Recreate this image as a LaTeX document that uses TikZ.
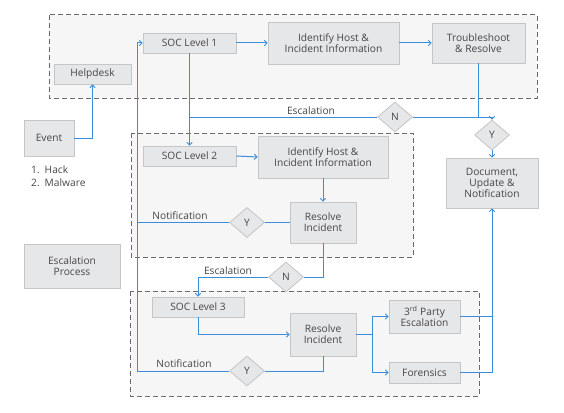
\documentclass[tikz,border=0pt]{standalone}
\usepackage{fontspec}
\setmainfont{Open Sans}
\usetikzlibrary{shapes.geometric,arrows.meta}
\definecolor{lineblue}{RGB}{58,141,218}
\definecolor{boxfill}{RGB}{230,231,233}
\definecolor{boxborder}{RGB}{196,198,200}
\definecolor{dimfill}{RGB}{200,200,200}
\definecolor{grpfill}{RGB}{246,246,246}
\definecolor{grpborder}{RGB}{105,105,105}
\definecolor{txt}{RGB}{70,70,70}
\tikzset{
  box/.style={draw=boxborder, fill=boxfill, line width=0.9pt, inner sep=0pt, align=center,
    font=\fontsize{10.2}{11}\selectfont, text=txt},
  dia/.style={diamond, draw=dimfill, fill=boxfill, line width=0.9pt, inner sep=0pt,
    minimum width=35pt, minimum height=30pt, font=\fontsize{10.2}{11}\selectfont, text=txt},
  grp/.style={draw=grpborder, fill=grpfill, line width=1pt, dash pattern=on 5pt off 3pt},
  conn/.style={draw=lineblue, line width=1pt},
  arr/.style={conn, -{Straight Barb[length=2.6pt,width=5.5pt,line width=0.9pt]}},
  lbl/.style={font=\fontsize{10.2}{11}\selectfont, text=txt, inner sep=0pt}
}
\begin{document}
\begin{tikzpicture}[x=1pt,y=-1pt]
\useasboundingbox (0,0) rectangle (564,412);
% containers
\draw[grp] (49,15) rectangle (537,98);
\draw[grp] (131,133) rectangle (413,257);
\draw[grp] (130,291) rectangle (479,396);

% boxes
\node[box, minimum width=77pt, minimum height=20pt] (help) at (92.5,74) {Helpdesk};
\node[box, minimum width=50pt, minimum height=36pt] (event) at (49,138) {Event};
\node[box, minimum width=93pt, minimum height=20pt] (soc1) at (189.5,43) {SOC Level 1};
\node[box, minimum width=131pt, minimum height=42pt] (id1) at (333.5,43) {Identify Host \&\\Incident Information};
\node[box, minimum width=93pt, minimum height=40pt] (trouble) at (478.5,43) {Troubleshoot\\\& Resolve};
\node[box, minimum width=92pt, minimum height=50pt] (doc) at (492,183) {Document,\\Update \&\\Notification};
\node[box, minimum width=93pt, minimum height=20pt] (soc2) at (189.5,156) {SOC Level 2};
\node[box, minimum width=130pt, minimum height=42pt] (id2) at (323,157) {Identify Host \&\\Incident Information};
\node[box, minimum width=66pt, minimum height=41pt] (res2) at (323,222.5) {Resolve\\Incident};
\node[box, minimum width=96pt, minimum height=44pt] (esc) at (72,266) {Escalation\\Process};
\node[box, minimum width=92pt, minimum height=20pt] (soc3) at (198,307) {SOC Level 3};
\node[box, minimum width=66pt, minimum height=43pt] (res3) at (323,334.5) {Resolve\\Incident};
\node[box, minimum width=71pt, minimum height=33pt] (third) at (424.5,316.5) {3\textsuperscript{rd} Party\\Escalation};
\node[box, minimum width=71pt, minimum height=21pt] (foren) at (424.5,372.5) {Forensics};

% diamonds
\node[dia] (n1) at (395,117) {N};
\node[dia] (y1) at (492,135) {Y};
\node[dia] (y2) at (247,222.5) {Y};
\node[dia] (n2) at (286,277) {N};
\node[dia] (y3) at (247,371) {Y};

% list
\node[lbl, anchor=north west, align=left, font=\fontsize{10.2}{13}\selectfont] (list) at (31,166) {1.\hspace{5pt}Hack\\2.\hspace{5pt}Malware};

% labels
\node[lbl, anchor=south] (l1) at (311,114.5) {Escalation};
\node[lbl, anchor=south] (l2) at (228,274.5) {Escalation};
\node[lbl, anchor=south] (l3) at (180,220) {Notification};
\node[lbl, anchor=south] (l4) at (184,368) {Notification};

% connectors
\draw[arr] (event.east) -| (help.south);
\draw[arr] (y3.west) -- (137,371) -- (137,43) -- (soc1.west);
\draw[conn] (y2.west) -- (137,222.5);
\draw[arr] (soc1.east) -- (id1.west);
\draw[arr] (id1.east) -- (trouble.west);
\draw[arr] (soc1.south) -- (soc2.north);
\draw[conn] (189.5,117) -- (n1.west);
\draw[arr] (n1.east) -- (492,117) -- (y1.north);
\draw[conn] (trouble.south) -- (478.5,117);
\draw[arr] (y1.south) -- (doc.north);
\draw[arr] (soc2.east) -- (id2.west);
\draw[arr] (id2.south) -- (res2.north);
\draw[conn] (res2.west) -- (y2.east);
\draw[conn] (res2.south) |- (n2.east);
\draw[arr] (n2.west) -| (soc3.north);
\draw[arr] (soc3.south) |- (res3.west);
\draw[conn] (res3.south) |- (y3.east);
\draw[conn] (res3.east) -- (372,334.5);
\draw[arr] (372,334.5) |- (third.west);
\draw[arr] (372,334.5) |- (foren.west);
\draw[conn] (third.east) -- (492,316.5);
\draw[arr] (foren.east) -| (doc.south);
\end{tikzpicture}
\end{document}
